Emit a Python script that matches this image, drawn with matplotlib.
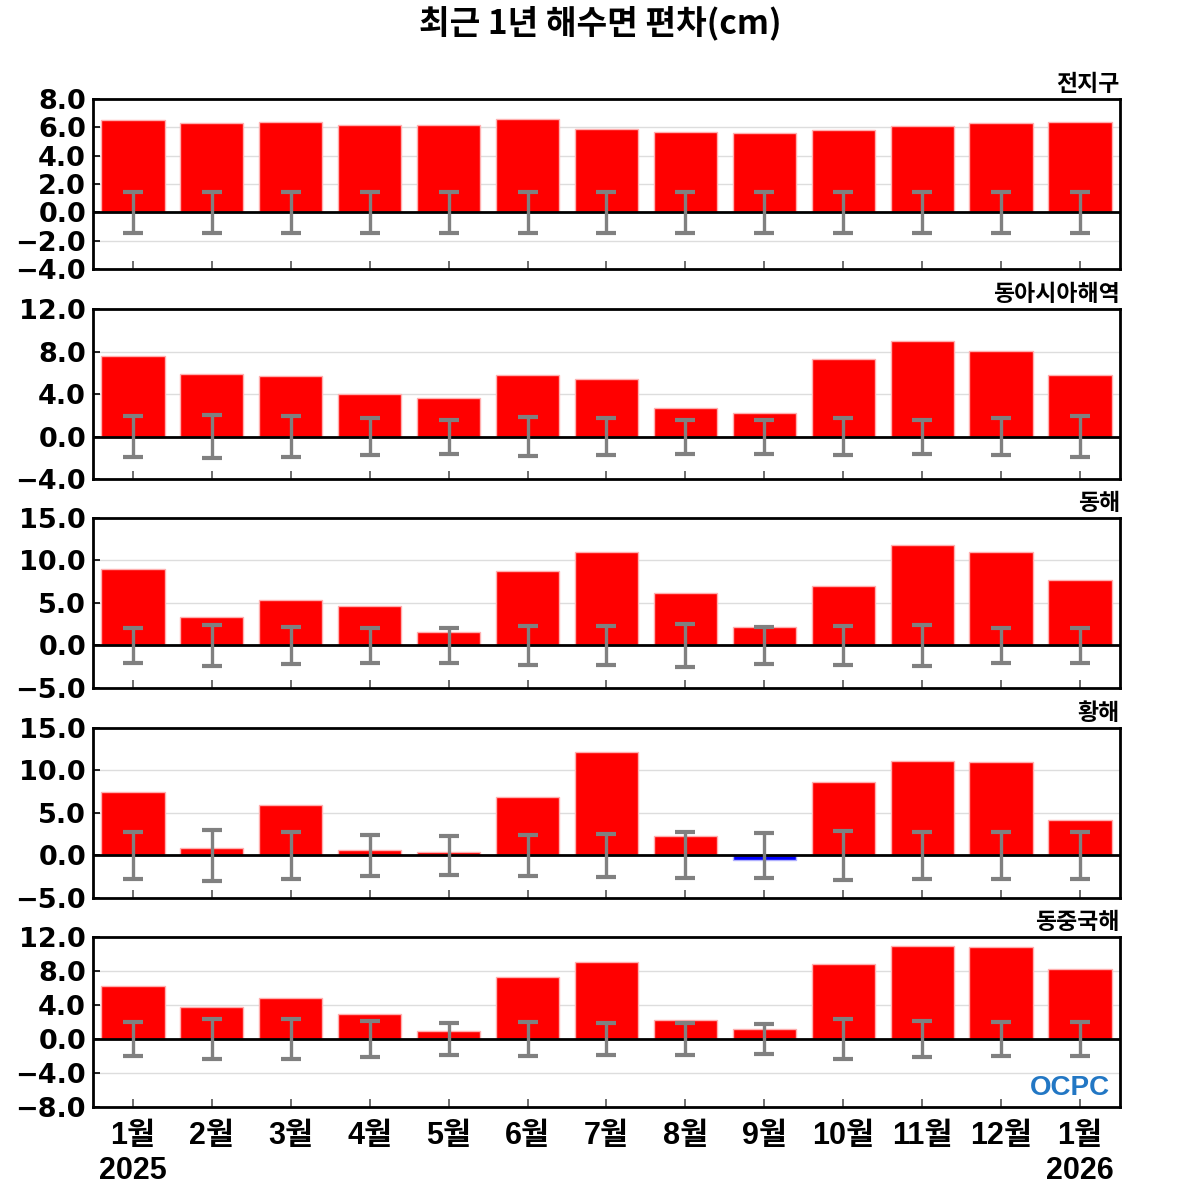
import matplotlib.pyplot as plt
import numpy as np

# months and regions
months = ['1월\n2025', '2월', '3월', '4월', '5월', '6월', '7월', '8월', '9월',
          '10월', '11월', '12월', '1월\n2026']
regions = ['전지구', '동아시아해역', '동해', '황해', '동중국해']

# sea level anomaly (cm)
global_vals = [6.5, 6.3, 6.35, 6.2, 6.2, 6.6, 5.9, 5.65, 5.6, 5.8, 6.1, 6.3, 6.4]
easia_vals = [7.55, 5.9, 5.7, 4.0, 3.6, 5.8, 5.4, 2.7, 2.2, 7.3, 9.0, 8.05, 5.8]
east_vals = [9.0, 3.35, 5.35, 4.65, 1.6, 8.8, 11.0, 6.2, 2.2, 7.0, 11.8, 11.0, 7.7]
yellow_vals = [7.5, 0.9, 5.95, 0.65, 0.4, 6.9, 12.2, 2.3, -0.55, 8.65, 11.1, 11.0, 4.2]
ecs_vals = [6.25, 3.75, 4.8, 2.95, 0.95, 7.3, 9.05, 2.25, 1.15, 8.8, 10.95, 10.8, 8.25]

# standard deviation (error bars)
global_std = [1.45] * 13
easia_std = [1.9, 2.0, 1.9, 1.75, 1.6, 1.8, 1.7, 1.6, 1.6, 1.7, 1.6, 1.7, 1.9]
east_std = [2.05, 2.4, 2.2, 2.05, 2.05, 2.3, 2.3, 2.5, 2.2, 2.3, 2.4, 2.05, 2.05]
yellow_std = [2.8, 3.0, 2.8, 2.4, 2.3, 2.4, 2.5, 2.7, 2.6, 2.9, 2.8, 2.75, 2.8]
ecs_std = [2.0, 2.3, 2.3, 2.1, 1.9, 2.0, 1.9, 1.9, 1.75, 2.3, 2.1, 2.0, 2.0]

# y axis ticks per panel
y_ticks = [np.arange(-4, 8.1, 2), np.arange(-4, 12.1, 4), np.arange(-5, 15.1, 5),
           np.arange(-5, 15.1, 5), np.arange(-8, 12.1, 4)]

all_vals = [global_vals, easia_vals, east_vals, yellow_vals, ecs_vals]
all_std = [global_std, easia_std, east_std, yellow_std, ecs_std]

kr = ['Noto Sans CJK KR', 'DejaVu Sans']
xfont = ['Liberation Sans', 'Noto Sans CJK KR']

fig = plt.figure(figsize=(12, 12), dpi=100)
fig.text(0.5, 0.981, '최근 1년 해수면 편차(cm)', ha='center', va='center',
         fontsize=24, fontweight='bold', family=kr)

bottoms = [0.7758, 0.6008, 0.4267, 0.2517, 0.0775]
x = np.arange(len(months))

for i in range(5):
    ax = fig.add_axes([0.0775, bottoms[i], 0.8558, 0.1417])
    vals = np.array(all_vals[i])
    cols = ['#ff0000' if v >= 0 else '#0000ff' for v in vals]
    edges = ['#ffb0b0' if v >= 0 else '#b0b0ff' for v in vals]
    ax.bar(x, vals, width=0.8, color=cols, edgecolor=edges, linewidth=1, zorder=2)
    ax.errorbar(x, np.zeros(len(x)), yerr=all_std[i], fmt='none', ecolor='#808080',
                elinewidth=2.4, capsize=7.5, capthick=3, zorder=3)
    ax.axhline(0, color='black', linewidth=2, zorder=2.5)
    ax.set_xlim(-0.507, 12.507)
    yt = y_ticks[i]
    ax.set_ylim(yt[0], yt[-1])
    ax.set_yticks(yt)
    ax.set_yticklabels([('%.1f' % t).replace('-', '\u2212') for t in yt])
    ax.grid(axis='y', color='#dddddd', linewidth=1)
    ax.set_axisbelow(True)
    for s in ax.spines.values():
        s.set_linewidth(2)
    ax.tick_params(axis='y', direction='in', length=5, width=1.2, labelsize=19.5, pad=5)
    ax.tick_params(axis='x', direction='in', length=6, width=1.2, color='#555555', pad=10)
    for lb in ax.get_yticklabels():
        lb.set_fontweight('bold')
    ax.set_xticks(x)
    if i == 4:
        ax.set_xticklabels(months, fontsize=22, fontweight='bold', family=xfont,
                           linespacing=1.22, va='top')
        ax.text(0.99, 0.11, 'OCPC', transform=ax.transAxes, ha='right', va='center',
                fontsize=20, fontweight='bold', color='#2277c4', family='Liberation Sans')
    else:
        ax.set_xticklabels([])
    ax.set_title(regions[i], loc='right', fontsize=16.5, fontweight='bold', family=kr, pad=6)

fig.savefig('out.png', dpi=100)
